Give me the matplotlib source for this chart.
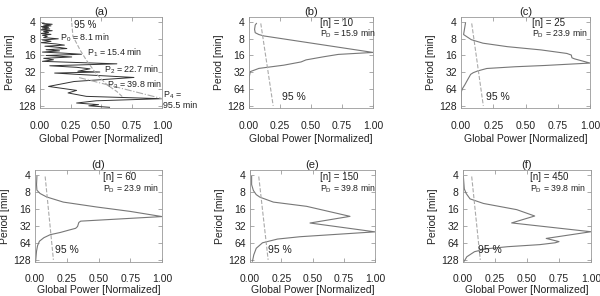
import matplotlib
matplotlib.use('Agg')
import matplotlib.pyplot as plt

plt.rcParams['font.family'] = ['Liberation Sans', 'DejaVu Sans']
plt.rcParams['font.size'] = 7.5
plt.rcParams['mathtext.fontset'] = 'custom'
plt.rcParams['mathtext.rm'] = 'Liberation Sans'
plt.rcParams['mathtext.it'] = 'Liberation Sans'

LINE = '#777777'
DASH = '#aaaaaa'
TXT = '#222222'

# ---- panel (a): raw global wavelet power ----
period_a = [4.3, 4.45, 4.6, 4.75, 4.9, 5.05, 5.2, 5.4, 5.6, 5.8, 6.0, 6.25, 6.5, 6.75, 7.0, 7.3,
            7.7, 8.1, 8.5, 9.0, 9.5, 10.0, 10.5, 11.0, 11.5, 12.1, 12.7, 13.3, 14.0, 14.6, 15.3,
            16.1, 17.1, 18.1, 19.2, 20.5, 22.7, 24.6, 26.2, 27.9, 30.8, 31.8, 33.2, 34.9, 39.8,
            47.0, 57.6, 67.8, 75.3, 86.7, 95.5, 104.0, 114.0, 122.0, 128.0, 136.0]
power_a = [0.02, 0.10, 0.03, 0.09, 0.01, 0.07, 0.02, 0.08, 0.00, 0.10, 0.03, 0.07, 0.01, 0.09, 0.02, 0.06,
           0.03, 0.15, 0.02, 0.09, 0.01, 0.13, 0.20, 0.04, 0.15, 0.22, 0.05, 0.16, 0.02, 0.19, 0.34,
           0.05, 0.26, 0.03, 0.11, 0.02, 0.63, 0.08, 0.30, 0.41, 0.31, 0.49, 0.12, 0.29, 0.77,
           0.28, 0.07, 0.30, 0.23, 0.38, 1.00, 0.46, 0.30, 0.48, 0.40, 0.57]
sig_period_a = [4.2, 7.3, 13.0, 19.5, 34.0, 54.0, 71.0, 90.0]
sig_power_a = [0.26, 0.27, 0.33, 0.38, 0.46, 0.55, 0.63, 0.68]
dd_period_a = [40.0, 95.0]
dd_power_a = [0.32, 1.00]
peak_labels_a = ['P$_0$ = 8.1 min', 'P$_1$ = 15.4 min', 'P$_2$ = 22.7 min', 'P$_3$ = 39.8 min']
peak_pos_a = [(0.164, 0.777), (0.385, 0.612), (0.525, 0.418), (0.549, 0.253)]

# ---- panels (b)-(f): smoothed global power ----
period_b = [4.3, 4.6, 5.5, 6.3, 6.8, 7.2, 14.2, 15.4, 17.0, 19.3, 21.0, 24.0, 27.4, 31.3, 38.0, 135.0]
power_b = [0.06, 0.05, 0.045, 0.05, 0.08, 0.12, 1.00, 0.72, 0.60, 0.46, 0.42, 0.28, 0.08, 0.01, 0.003, 0.0]

period_c = [4.2, 6.8, 8.4, 9.7, 11.2, 12.8, 14.8, 15.8, 17.7, 18.5, 22.0, 24.3, 25.6, 27.5, 30.4,
            32.7, 35.0, 43.4, 53.7, 62.0, 71.0, 135.0]
power_c = [0.035, 0.02, 0.08, 0.17, 0.36, 0.62, 0.82, 0.855, 0.86, 0.88, 1.00, 0.65, 0.42, 0.20, 0.13,
           0.095, 0.075, 0.052, 0.03, 0.013, 0.003, 0.0]

period_d = [4.3, 6.0, 7.5, 8.6, 9.9, 12.2, 14.9, 17.8, 22.0, 26.5, 28.0, 33.0, 35.5, 38.0, 42.0,
            46.0, 52.0, 60.0, 72.0, 90.0, 135.0]
power_d = [0.015, 0.012, 0.015, 0.04, 0.092, 0.223, 0.486, 0.748, 1.00, 0.36, 0.345, 0.335, 0.32, 0.27, 0.20,
           0.12, 0.07, 0.035, 0.02, 0.012, 0.005]

period_e = [4.3, 6.0, 7.6, 9.0, 10.0, 12.2, 14.5, 21.8, 28.6, 41.0, 50.0, 55.0, 64.0, 80.0, 105.0, 135.0]
power_e = [0.013, 0.013, 0.027, 0.05, 0.08, 0.187, 0.453, 0.80, 0.48, 1.00, 0.40, 0.22, 0.10, 0.05, 0.03, 0.02]

period_f = [4.3, 7.1, 8.6, 10.7, 12.9, 16.6, 21.5, 28.5, 40.8, 53.6, 61.0, 64.0, 69.0, 75.0, 82.0,
            92.0, 113.0, 135.0]
power_f = [0.003, 0.01, 0.025, 0.055, 0.16, 0.42, 0.56, 0.38, 1.00, 0.65, 0.75, 0.72, 0.60, 0.35, 0.18,
           0.09, 0.03, 0.01]

smooth_periods = [period_b, period_c, period_d, period_e, period_f]
smooth_powers = [power_b, power_c, power_d, power_e, power_f]
sig_ends = [(0.095, 0.195), (0.083, 0.173), (0.08, 0.145), (0.07, 0.145), (0.068, 0.135)]
sig_period_range = (4.3, 128.0)
n_values = [10, 25, 60, 150, 450]
pd_values = [15.9, 23.9, 23.9, 39.8, 39.8]
sig_text_pos = [(0.27, 0.121), (0.19, 0.121), (0.157, 0.134), (0.144, 0.134), (0.117, 0.134)]
info_x = [0.573, 0.548, 0.535, 0.56, 0.523]
info_y = [(0.93, 0.815), (0.93, 0.815), (0.924, 0.80), (0.924, 0.80), (0.924, 0.80)]

titles = ['(a)', '(b)', '(c)', '(d)', '(e)', '(f)']
W, H = 600.0, 296.0
boxes = [(40, 17, 122, 91), (249, 17, 124, 91), (461, 17, 129, 91),
         (35, 170, 127, 92), (250, 170, 125, 92), (463, 170, 128, 92)]

fig = plt.figure(figsize=(6.0, 2.96), dpi=100)
axes = []
for (x0, y0, w, h) in boxes:
    ax = fig.add_axes([x0 / W, 1 - (y0 + h) / H, w / W, h / H])
    axes.append(ax)

for i, ax in enumerate(axes):
    ax.set_yscale('log')
    ax.set_ylim(140, 3.3)
    ax.set_xlim(0, 1)
    ax.set_yticks([4, 8, 16, 32, 64, 128])
    ax.set_yticklabels(['4', '8', '16', '32', '64', '128'])
    ax.yaxis.set_minor_locator(plt.NullLocator())
    ax.set_xticks([0, 0.25, 0.5, 0.75, 1.0])
    ax.set_xticklabels(['0.00', '0.25', '0.50', '0.75', '1.00'])
    ax.tick_params(direction='in', top=True, right=True, length=3, width=0.5,
                   color='#888888', labelcolor=TXT, labelsize=7.5)
    ax.tick_params(axis='x', pad=9.5 if i < 3 else 8.5)
    ax.tick_params(axis='y', pad=3)
    for s in ax.spines.values():
        s.set_color('#999999')
        s.set_linewidth(0.6)
    ax.set_title(titles[i], fontsize=8, color=TXT, pad=1.5)
    ax.set_xlabel('Global Power [Normalized]', color=TXT, labelpad=2 if i < 3 else 1)
    ax.set_ylabel('Period [min]', color=TXT, labelpad=2)

# panel (a)
ax = axes[0]
ax.plot(power_a, period_a, color='#333333', lw=0.7)
ax.plot(sig_power_a, sig_period_a, color=DASH, lw=0.8, ls='--')
ax.plot(dd_power_a, dd_period_a, color=DASH, lw=0.8, ls='-.')
ax.text(0.279, 0.912, '95 %', color=TXT, fontsize=7, va='center', transform=ax.transAxes)
for lab, (px, py) in zip(peak_labels_a, peak_pos_a):
    ax.text(px, py, lab, color=TXT, fontsize=6.4, va='center', transform=ax.transAxes)
ax.text(1.008, 0.14, 'P$_4$ =', color=TXT, fontsize=6.4, va='center',
        transform=ax.transAxes, clip_on=False)
ax.text(1.008, 0.025, '95.5 min', color=TXT, fontsize=6.4, va='center',
        transform=ax.transAxes, clip_on=False)

# panels (b)-(f)
for k in range(5):
    ax = axes[k + 1]
    ax.plot(smooth_powers[k], smooth_periods[k], color=LINE, lw=0.8)
    ax.plot(sig_ends[k], sig_period_range, color=DASH, lw=0.8, ls='--')
    tx, ty = sig_text_pos[k]
    ax.text(tx, ty, '95 %', color=TXT, fontsize=7.5, va='center', transform=ax.transAxes)
    ax.text(info_x[k], info_y[k][0], '[n] = %d' % n_values[k], color=TXT, fontsize=7,
            va='center', transform=ax.transAxes)
    ax.text(info_x[k], info_y[k][1], 'P$_{\\rm D}$ = %.1f min' % pd_values[k], color=TXT,
            fontsize=6.3, va='center', transform=ax.transAxes)

fig.savefig('out.png', dpi=100)
